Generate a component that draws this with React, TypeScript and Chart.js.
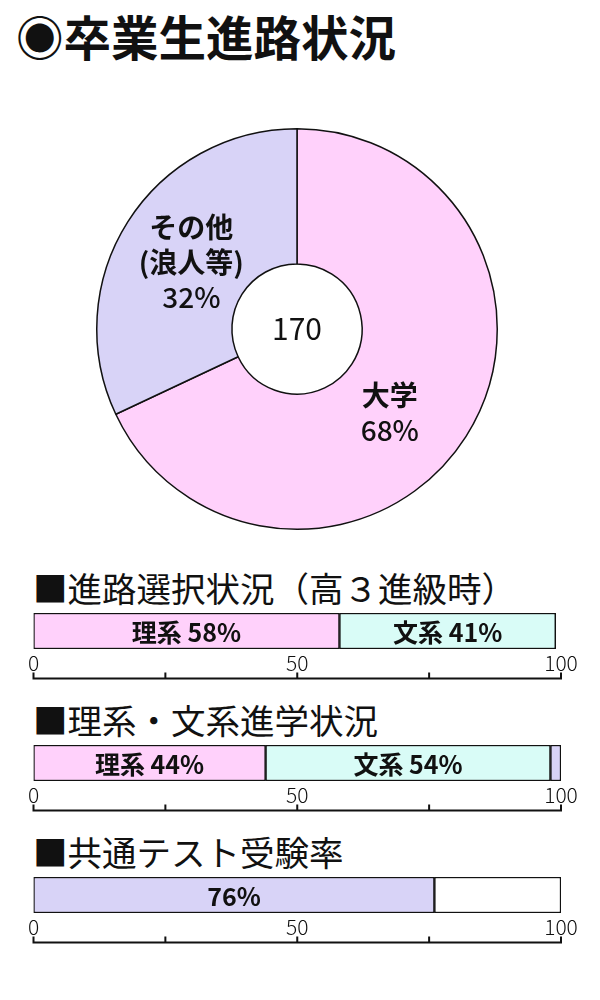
import { useEffect, useRef } from 'react';
import Chart from 'chart.js/auto';

const FONT = '"Noto Sans CJK JP", "Noto Sans", sans-serif';
const INK = '#111111';
const PINK = '#ffd1fb';
const MINT = '#d9fcf7';
const LAVENDER = '#d8d3f7';
const WHITE = '#ffffff';

// 卒業生進路状況 (doughnut)
const routeNames = ['大学', 'その他'];
const routeValues = [68, 32];
const routeCaptions = [['大学', '68%'], ['その他', '(浪人等)', '32%']];
const routeTotal = '170';

// 進路選択状況（高３進級時）
const courseNames = ['理系', '文系'];
const courseValues = [58, 41];

// 理系・文系進学状況
const advanceNames = ['理系', '文系', 'その他'];
const advanceValues = [44, 54, 2];

// 共通テスト受験率
const testNames = ['受験', '未受験'];
const testValues = [76, 24];

const axisTicks = [0, 25, 50, 75, 100];
const axisLabels = [0, 50, 100];

const pieTextPlugin = {
  id: 'pieText',
  afterDraw(chart: any) {
    const { ctx } = chart;
    const arcs = chart.getDatasetMeta(0).data;
    if (!arcs.length) return;
    const { x: cx, y: cy } = arcs[0];
    ctx.save();
    ctx.fillStyle = INK;
    ctx.textAlign = 'center';
    ctx.textBaseline = 'middle';
    ctx.font = `400 30px ${FONT}`;
    ctx.fillText(routeTotal, cx, cy);
    const nudge = [0.17, 0];
    arcs.forEach((arc: any, i: number) => {
      const { startAngle, endAngle, outerRadius } = arc.getProps(['startAngle', 'endAngle', 'outerRadius'], true);
      const a = (startAngle + endAngle) / 2 + nudge[i];
      const r = outerRadius * 0.625;
      const lx = cx + Math.cos(a) * r;
      const ly = cy + Math.sin(a) * r;
      const lines = routeCaptions[i];
      const step = 35;
      lines.forEach((line, j) => {
        const isNum = line.endsWith('%');
        ctx.font = `${isNum ? 500 : 700} 28px ${FONT}`;
        ctx.fillText(line, lx, ly + (j - (lines.length - 1) / 2) * step);
      });
    });
    ctx.restore();
  },
};

function RouteDoughnut() {
  const canvasRef = useRef<HTMLCanvasElement>(null);

  useEffect(() => {
    if (!canvasRef.current) return;
    const chart = new Chart(canvasRef.current, {
      type: 'doughnut',
      data: {
        labels: routeNames,
        datasets: [
          {
            data: routeValues,
            backgroundColor: [PINK, LAVENDER],
            borderColor: INK,
            borderWidth: 1.5,
          },
        ],
      },
      options: {
        responsive: false,
        animation: false,
        cutout: '32.5%',
        layout: { padding: 9 },
        plugins: { legend: { display: false }, tooltip: { enabled: false } },
      },
      plugins: [pieTextPlugin],
    });
    return () => chart.destroy();
  }, []);

  return (
    <canvas
      ref={canvasRef}
      width={420}
      height={420}
      style={{ position: 'absolute', left: 87, top: 119, width: 420, height: 420 }}
    />
  );
}

const axisPlugin = {
  id: 'axisLine',
  afterDraw(chart: any) {
    const { ctx, chartArea } = chart;
    const x = chart.scales.x;
    const y = chartArea.bottom + 29.5;
    ctx.save();
    ctx.strokeStyle = INK;
    ctx.lineWidth = 2;
    ctx.beginPath();
    ctx.moveTo(x.getPixelForValue(0) - 1, y);
    ctx.lineTo(x.getPixelForValue(100) + 1, y);
    axisTicks.forEach((v) => {
      const px = x.getPixelForValue(v);
      ctx.moveTo(px, y);
      ctx.lineTo(px, y - 6);
    });
    ctx.stroke();
    ctx.restore();
  },
};

const segmentTextPlugin = {
  id: 'segmentText',
  afterDatasetsDraw(chart: any) {
    const { ctx } = chart;
    ctx.save();
    ctx.fillStyle = INK;
    ctx.textAlign = 'center';
    ctx.textBaseline = 'middle';
    ctx.font = `700 25px ${FONT}`;
    chart.data.datasets.forEach((ds: any, i: number) => {
      if (!ds.caption) return;
      const bar = chart.getDatasetMeta(i).data[0];
      const { x, y, base } = bar.getProps(['x', 'y', 'base'], true);
      ctx.fillText(ds.caption, (x + base) / 2, y + 1);
    });
    ctx.restore();
  },
};

type StripProps = {
  top: number;
  names: string[];
  values: number[];
  colors: string[];
  captions: string[];
};

function BarStrip({ top, names, values, colors, captions }: StripProps) {
  const canvasRef = useRef<HTMLCanvasElement>(null);

  useEffect(() => {
    if (!canvasRef.current) return;
    const chart = new Chart(canvasRef.current, {
      type: 'bar',
      data: {
        labels: [''],
        datasets: values.map((v, i) => ({
          label: names[i],
          data: [v],
          caption: captions[i],
          backgroundColor: colors[i],
          borderColor: INK,
          borderWidth: 1.5,
          borderSkipped: false,
          barPercentage: 1,
          categoryPercentage: 1,
        })) as any,
      },
      options: {
        indexAxis: 'y',
        responsive: false,
        animation: false,
        layout: { padding: { left: 33.5, right: 39, top: 1, bottom: 1 } },
        plugins: { legend: { display: false }, tooltip: { enabled: false } },
        scales: {
          x: {
            stacked: true,
            min: 0,
            max: 100,
            afterBuildTicks: (s: any) => {
              s.ticks = axisTicks.map((v) => ({ value: v }));
            },
            afterFit: (s: any) => {
              s.height = 34;
            },
            grid: { display: false, drawTicks: false },
            border: { display: false },
            ticks: {
              autoSkip: false,
              maxRotation: 0,
              padding: 1,
              color: INK,
              font: { family: FONT, size: 21, weight: 300 },
              callback: (v: any) => (axisLabels.includes(Number(v)) ? String(v) : ''),
            },
          },
          y: { stacked: true, display: false },
        },
      },
      plugins: [segmentTextPlugin, axisPlugin],
    });
    return () => chart.destroy();
  }, []);

  return (
    <canvas
      ref={canvasRef}
      width={600}
      height={72}
      style={{ position: 'absolute', left: 0, top: top - 1, width: 600, height: 72 }}
    />
  );
}

function Heading({ top, text }: { top: number; text: string }) {
  return (
    <div
      style={{
        position: 'absolute',
        left: 33,
        top,
        fontFamily: FONT,
        fontSize: 34.5,
        lineHeight: '34px',
        color: INK,
        whiteSpace: 'nowrap',
      }}
    >
      {text}
    </div>
  );
}

export default function App() {
  return (
    <div style={{ position: 'absolute', left: 0, top: 0, width: 600, height: 1000, background: WHITE }}>
      <div
        style={{
          position: 'absolute',
          left: 16,
          top: 12,
          fontFamily: FONT,
          fontWeight: 700,
          fontSize: 47.5,
          lineHeight: '47px',
          color: INK,
          whiteSpace: 'nowrap',
        }}
      >
        ◉卒業生進路状況
      </div>
      <RouteDoughnut />
      <Heading top={570} text="■進路選択状況（高３進級時）" />
      <BarStrip
        top={613}
        names={courseNames}
        values={courseValues}
        colors={[PINK, MINT]}
        captions={courseValues.map((v, i) => `${courseNames[i]} ${v}%`)}
      />
      <Heading top={702} text="■理系・文系進学状況" />
      <BarStrip
        top={745}
        names={advanceNames}
        values={advanceValues}
        colors={[PINK, MINT, LAVENDER]}
        captions={advanceValues.map((v, i) => (i < 2 ? `${advanceNames[i]} ${v}%` : ''))}
      />
      <Heading top={834} text="■共通テスト受験率" />
      <BarStrip
        top={877}
        names={testNames}
        values={testValues}
        colors={[LAVENDER, WHITE]}
        captions={testValues.map((v, i) => (i === 0 ? `${v}%` : ''))}
      />
    </div>
  );
}
